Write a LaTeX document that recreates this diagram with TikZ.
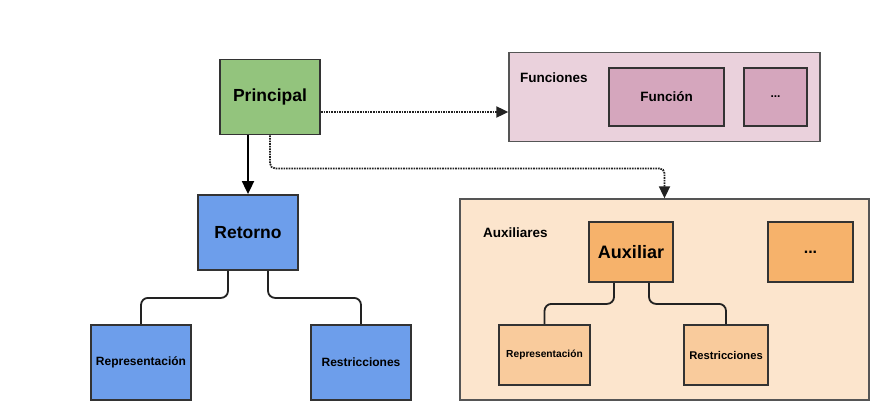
\documentclass[tikz,border=0pt]{standalone}
\usepackage{fontspec}
\setmainfont{Liberation Sans}
\usetikzlibrary{arrows.meta,calc}
\definecolor{cgreen}{HTML}{93C47D}
\definecolor{cblue}{HTML}{6D9EEB}
\definecolor{cpinkbg}{HTML}{EAD1DC}
\definecolor{cpink}{HTML}{D5A6BD}
\definecolor{corangebg}{HTML}{FCE5CD}
\definecolor{corange}{HTML}{F6B26B}
\definecolor{corangelt}{HTML}{F9CB9C}
\definecolor{cborder}{HTML}{333333}
\definecolor{ccont}{HTML}{555555}
\definecolor{cline}{HTML}{222222}
\newcommand{\fsz}[1]{\fontsize{#1}{#1}\selectfont}
\begin{document}
\begin{tikzpicture}[x=1pt,y=-1pt,
  box/.style={draw=cborder,line width=1.8pt,inner sep=0pt,font=\bfseries},
  cont/.style={draw=ccont,line width=1.3pt,inner sep=0pt},
  lbl/.style={inner sep=0pt,font=\bfseries\fsz{13.5}},
  conn/.style={draw=cline,line width=1.8pt,rounded corners=7pt},
  dotarrow/.style={draw=cline,line width=1.8pt,dash pattern=on 1.6pt off 1pt,rounded corners=5pt,-{Triangle[width=11pt,length=12pt]}},
  solarrow/.style={draw=black,line width=1.8pt,-{Triangle[width=12pt,length=13pt]}}]
\useasboundingbox (0,0) rectangle (889,420);
% containers
\node[cont,fill=cpinkbg,minimum width=311pt,minimum height=89pt] (funciones) at (664.5,97) {};
\node[cont,fill=corangebg,minimum width=409pt,minimum height=201pt] (auxiliares) at (664.5,299.5) {};
\node[lbl,anchor=west] (funlbl) at (520,78) {Funciones};
\node[lbl,anchor=west] (auxlbl) at (483,232.5) {Auxiliares};
% main nodes
\node[box,fill=cgreen,minimum width=100pt,minimum height=75pt,font=\bfseries\fsz{17.5}] (principal) at (270,97) {Principal};
\node[box,fill=cblue,minimum width=100pt,minimum height=75pt,font=\bfseries\fsz{17.5}] (retorno) at (248,232.5) {Retorno};
\node[box,fill=cblue,minimum width=100pt,minimum height=75pt,font=\bfseries\fsz{12}] (rep1) at (141,362.5) {Representación};
\node[box,fill=cblue,minimum width=100pt,minimum height=75pt,font=\bfseries\fsz{12}] (res1) at (361,362.5) {Restricciones};
% funciones
\node[box,fill=cpink,minimum width=115pt,minimum height=58pt,font=\bfseries\fsz{13.5}] (funcion) at (666.5,97) {Función};
\node[box,fill=cpink,minimum width=63pt,minimum height=58pt,font=\bfseries\fsz{12}] (fundots) at (775.5,97) {...};
% auxiliares
\node[box,fill=corange,minimum width=84pt,minimum height=60pt,font=\bfseries\fsz{18}] (auxiliar) at (631,252) {Auxiliar};
\node[box,fill=corange,minimum width=85pt,minimum height=60pt,font=\bfseries\fsz{16}] (auxdots) at (810.5,252) {...};
\node[box,fill=corangelt,minimum width=91pt,minimum height=60pt,font=\bfseries\fsz{10.2}] (rep2) at (544.5,355) {Representación};
\node[box,fill=corangelt,minimum width=84pt,minimum height=60pt,font=\bfseries\fsz{11.2}] (res2) at (726,355) {Restricciones};
% connectors
\draw[solarrow] (retorno.north |- principal.south) -- (retorno.north);
\draw[dotarrow] ([yshift=-15pt]principal.east) -- ([yshift=-15pt]principal.east -| funciones.west);
\draw[dotarrow] (principal.south) -- ++(0,33) -| (auxiliares.north);
\draw[conn] ([xshift=-20pt]retorno.south) -- ++(0,27) -| (rep1.north);
\draw[conn] ([xshift=20pt]retorno.south) -- ++(0,27) -| (res1.north);
\draw[conn] ([xshift=-17pt]auxiliar.south) -- ++(0,21) -| (rep2.north);
\draw[conn] ([xshift=18pt]auxiliar.south) -- ++(0,21) -| (res2.north);
\end{tikzpicture}
\end{document}
